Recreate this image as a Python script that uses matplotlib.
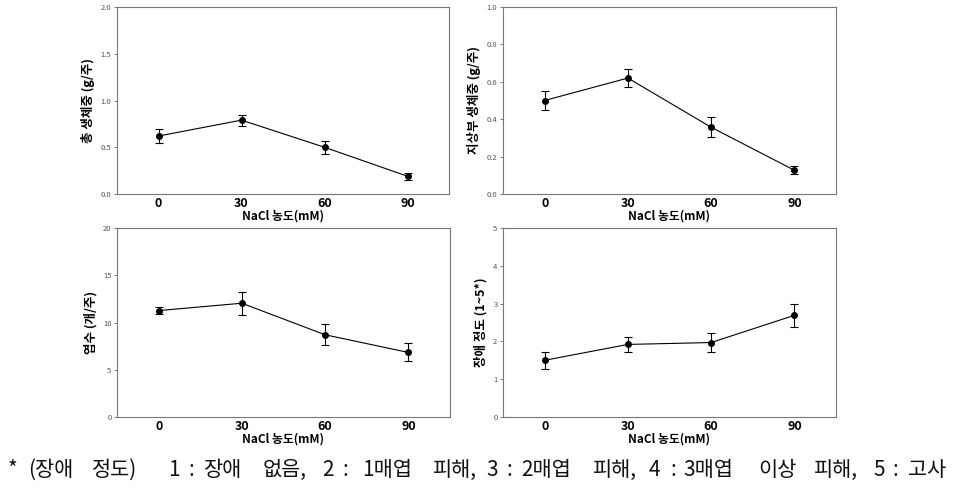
import matplotlib
matplotlib.use("Agg")
import matplotlib.pyplot as plt

plt.rcParams['font.family'] = ['Noto Sans CJK KR', 'DejaVu Sans']

nacl = [0, 30, 60, 90]

total_weight = [0.62, 0.79, 0.50, 0.19]
total_weight_err = [0.07, 0.06, 0.07, 0.035]

shoot_weight = [0.50, 0.62, 0.357, 0.127]
shoot_weight_err = [0.05, 0.046, 0.053, 0.022]

leaf_count = [11.26, 12.04, 8.7, 6.83]
leaf_count_err = [0.35, 1.2, 1.1, 0.95]

damage = [1.50, 1.92, 1.97, 2.69]
damage_err = [0.22, 0.19, 0.24, 0.30]

panels = [
    (total_weight, total_weight_err, "총 생체중 (g/주)", 2.0, [0.0, 0.5, 1.0, 1.5, 2.0], "{:.1f}"),
    (shoot_weight, shoot_weight_err, "지상부 생체중 (g/주)", 1.0, [0.0, 0.2, 0.4, 0.6, 0.8, 1.0], "{:.1f}"),
    (leaf_count, leaf_count_err, "엽수 (개/주)", 20, [0, 5, 10, 15, 20], "{:d}"),
    (damage, damage_err, "장애 정도 (1~5*)", 5, [0, 1, 2, 3, 4, 5], "{:d}"),
]

# footnote, drawn word by word because the source is widely spaced
note_words = ["*", "(장애", "정도)", "1", ":", "장애", "없음,", "2", ":", "1매엽", "피해,",
              "3", ":", "2매엽", "피해,", "4", ":", "3매엽", "이상", "피해,", "5", ":", "고사"]
note_x = [8, 28, 92, 168, 188, 203, 263, 322, 343, 362, 433,
          486, 506, 521, 593, 649, 671, 683, 758, 814, 873, 893, 908]

# axes boxes in pixels: left, top, right, bottom
boxes = [(117, 7, 449, 194), (503, 7, 836, 194),
         (117, 228, 450, 417), (503, 228, 836, 417)]

W, H = 976, 491
fig = plt.figure(figsize=(W / 100, H / 100), dpi=100)

for (vals, errs, ylabel, ymax, yticks, fmt), (l, t, r, b) in zip(panels, boxes):
    ax = fig.add_axes([l / W, 1 - b / H, (r - l) / W, (b - t) / H])
    ax.errorbar(nacl, vals, yerr=errs, color="black", marker="o", markersize=4,
                linewidth=0.8, elinewidth=0.8, capsize=3, capthick=0.8)
    ax.set_xlim(-15, 105)
    ax.set_ylim(0, ymax)
    ax.set_xticks(nacl)
    ax.set_xticklabels([str(n) for n in nacl], fontsize=9, fontweight="bold")
    ax.set_yticks(yticks)
    ax.set_yticklabels([fmt.format(v) for v in yticks], fontsize=5.5, color="#555555")
    ax.tick_params(axis="x", length=0, pad=2)
    ax.tick_params(axis="y", length=2, width=0.6, color="#666666", pad=2)
    for sp in ax.spines.values():
        sp.set_color("#777777")
        sp.set_linewidth(0.8)
    ax.set_ylabel(ylabel, fontsize=9, fontweight="bold", labelpad=4)
    ax.set_xlabel("NaCl 농도(mM)", fontsize=8.5, fontweight="bold", labelpad=0)

for word, x in zip(note_words, note_x):
    fig.text(x / W, 1 - 470 / H, word, fontsize=15, va="center", ha="left",
             color="#111111")

fig.savefig("out.png", dpi=100)
